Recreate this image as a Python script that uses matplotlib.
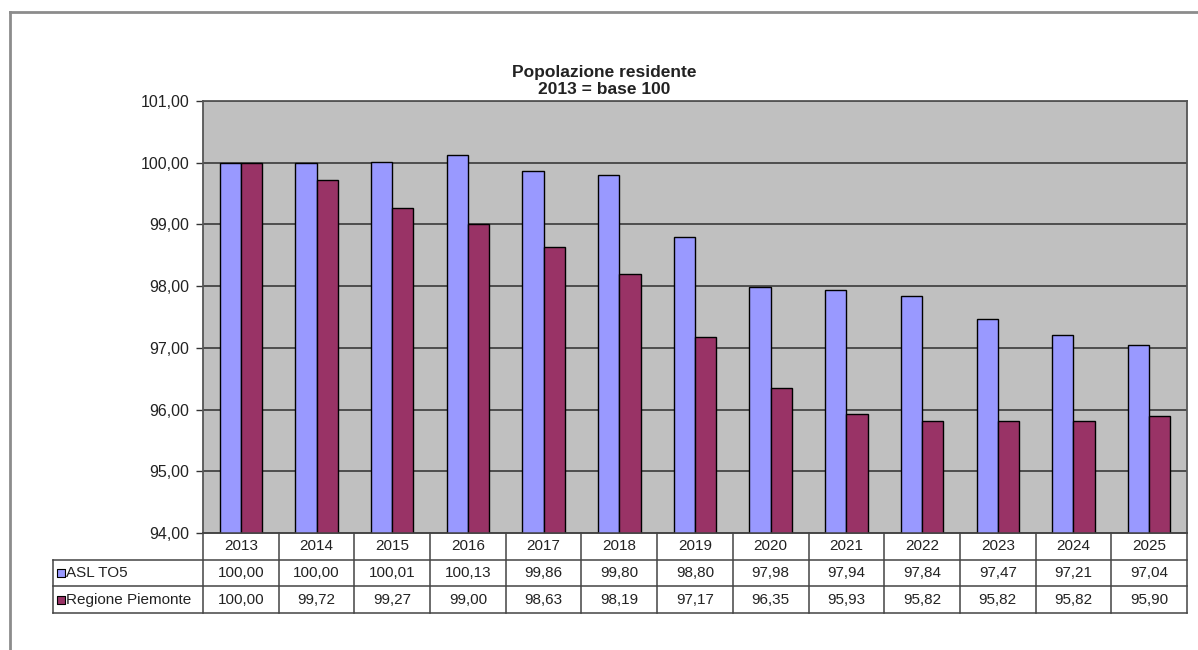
import numpy as np
import matplotlib.pyplot as plt
from matplotlib.lines import Line2D

plt.rcParams['font.family'] = ['Liberation Sans', 'DejaVu Sans']

anni = ['2013', '2014', '2015', '2016', '2017', '2018', '2019',
        '2020', '2021', '2022', '2023', '2024', '2025']
asl_to5 = [100.00, 100.00, 100.01, 100.13, 99.86, 99.80, 98.80,
           97.98, 97.94, 97.84, 97.47, 97.21, 97.04]
piemonte = [100.00, 99.72, 99.27, 99.00, 98.63, 98.19, 97.17,
            96.35, 95.93, 95.82, 95.82, 95.82, 95.90]
serie = ['ASL TO5', 'Regione Piemonte']
colori = ['#9999FF', '#993366']

W, H = 1198, 650
fig = plt.figure(figsize=(W / 100, H / 100), dpi=100)

def fx(px): return px / W
def fy(py): return 1 - py / H

def virgola(v): return ('%.2f' % v).replace('.', ',')

# outer frame
fig.add_artist(Line2D([fx(10), fx(10)], [fy(12), 0], color='#8c8c8c', lw=2))
fig.add_artist(Line2D([fx(10), 1], [fy(12), fy(12)], color='#8c8c8c', lw=2))

L, R, T, B = 203, 1187, 101, 533
ax = fig.add_axes([fx(L), fy(B), fx(R - L), (B - T) / H])
ax.set_facecolor('#C0C0C0')

x = np.arange(len(anni))
bw = 0.28
ax.bar(x - bw / 2, asl_to5, bw, color=colori[0], edgecolor='black', lw=1, zorder=3)
ax.bar(x + bw / 2, piemonte, bw, color=colori[1], edgecolor='black', lw=1, zorder=3)

ax.set_xlim(-0.5, len(anni) - 0.5)
ax.set_ylim(94, 101)
yt = np.arange(94, 102, 1)
ax.set_yticks(yt)
ax.set_yticklabels([virgola(v) for v in yt], fontsize=11.5, color='#222222')
ax.yaxis.grid(True, color='#3a3a3a', lw=1.2, zorder=1)
ax.tick_params(axis='y', direction='out', length=5, width=1, pad=5, color='#333333')
ax.set_xticks([])
for s in ax.spines.values():
    s.set_color('#555555')
    s.set_linewidth(1.3)

# data table
TB = 613
tax = fig.add_axes([fx(L), fy(TB), fx(R - L), (TB - B) / H])
tax.set_xlim(-0.5, len(anni) - 0.5)
tax.set_ylim(0, 3)
tax.axis('off')
xl = -0.5 - (L - 53) / (R - L) * len(anni)
lc = dict(color='#444444', lw=1.1, clip_on=False)
for yy in [0, 1, 2]:
    tax.plot([xl, len(anni) - 0.5], [yy, yy], **lc)
tax.plot([-0.5, len(anni) - 0.5], [3, 3], **lc)
tax.plot([xl, xl], [0, 2], **lc)
for k in range(len(anni) + 1):
    tax.plot([k - 0.5, k - 0.5], [0, 3], **lc)

fs = 11
for i, a in enumerate(anni):
    tax.text(i, 2.5, a, ha='center', va='center', fontsize=fs, color='#222222')
    tax.text(i, 1.5, virgola(asl_to5[i]), ha='center', va='center', fontsize=fs, color='#222222')
    tax.text(i, 0.5, virgola(piemonte[i]), ha='center', va='center', fontsize=fs, color='#222222')

for j, (nome, c) in enumerate(zip(serie, colori)):
    yy = 1.5 - j
    tax.scatter([xl + 0.1], [yy], marker='s', s=28, color=c, edgecolor='black', lw=0.8, clip_on=False, zorder=4)
    tax.text(xl + 0.17, yy, nome, ha='left', va='center', fontsize=fs, color='#222222', clip_on=False)

fig.text(fx(604), fy(72), 'Popolazione residente', ha='center', va='center', fontsize=12.5, fontweight='bold', color='#222222')
fig.text(fx(604), fy(89), '2013 = base 100', ha='center', va='center', fontsize=12.5, fontweight='bold', color='#222222')

fig.savefig('out.png', dpi=100)
